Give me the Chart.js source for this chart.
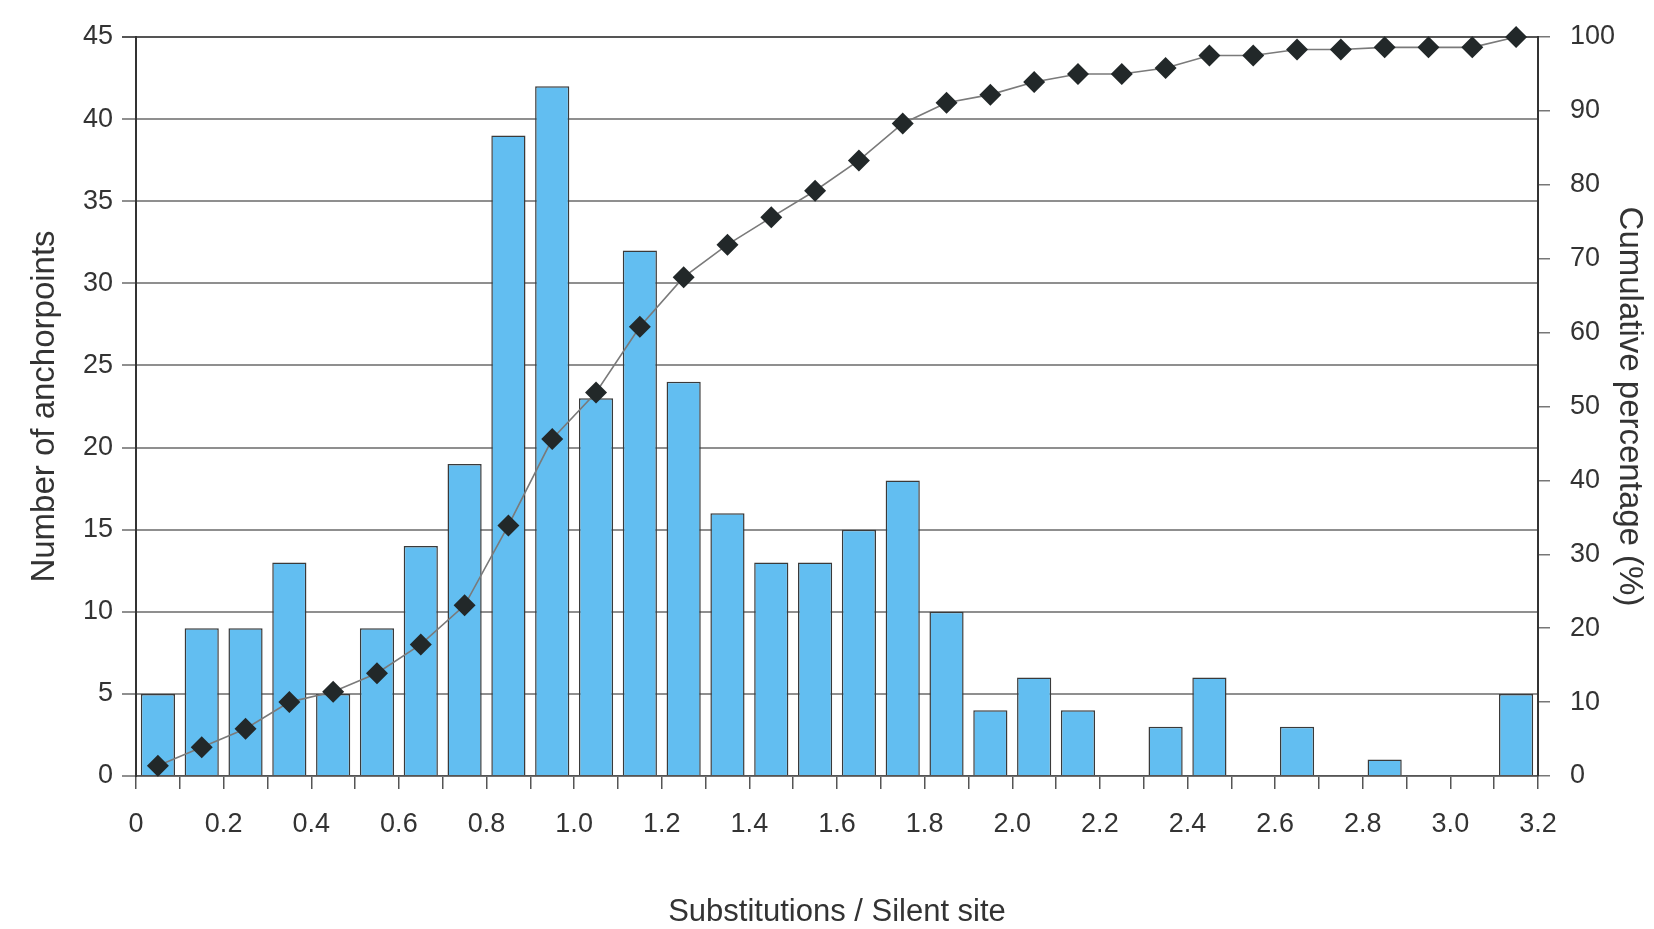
<!DOCTYPE html>
<html>
<head>
<meta charset="utf-8">
<script src="https://cdn.jsdelivr.net/npm/chart.js@4/dist/chart.umd.min.js"></script>
<style>
  html, body { margin: 0; padding: 0; background: #fff; }
  #wrap { width: 1654px; height: 929px; position: relative; }
</style>
</head>
<body>
<div id="wrap"><canvas id="histChart"></canvas></div>
<script>
// bin centres (substitutions / silent site), bins are 0.1 wide
const binMids = [0.05, 0.15, 0.25, 0.35, 0.45, 0.55, 0.65, 0.75, 0.85, 0.95,
  1.05, 1.15, 1.25, 1.35, 1.45, 1.55, 1.65, 1.75, 1.85, 1.95,
  2.05, 2.15, 2.25, 2.35, 2.45, 2.55, 2.65, 2.75, 2.85, 2.95, 3.05, 3.15];
// number of anchorpoints per bin
const anchorCounts = [5, 9, 9, 13, 5, 9, 14, 19, 39, 42,
  23, 32, 24, 16, 13, 13, 15, 18, 10, 4,
  6, 4, 0, 3, 6, 0, 3, 0, 1, 0, 0, 5];
// cumulative percentage
const cumulativePct = [1.4, 3.9, 6.4, 10.0, 11.4, 13.9, 17.8, 23.1, 33.9, 45.6,
  51.9, 60.8, 67.5, 71.9, 75.6, 79.2, 83.3, 88.3, 91.1, 92.2,
  93.9, 95.0, 95.0, 95.8, 97.5, 97.5, 98.3, 98.3, 98.6, 98.6, 98.6, 100];

const xMin = 0, xMax = 3.2, xStep = 0.1;
const leftMax = 45, leftStep = 5;
const rightMax = 100, rightStep = 10;

const barPoints = binMids.map((x, i) => ({ x: x, y: anchorCounts[i] === 0 ? null : anchorCounts[i] }));
const cumPoints = binMids.map((x, i) => ({ x: x, y: cumulativePct[i] }));

const tickFont = { family: "'Liberation Sans', Arial, sans-serif", size: 27 };
const titleFont = { family: "'Liberation Sans', Arial, sans-serif", size: 33 };

new Chart(document.getElementById('histChart'), {
  data: {
    datasets: [
      {
        type: 'line',
        label: 'Cumulative percentage',
        data: cumPoints,
        yAxisID: 'y2',
        borderColor: '#7a7a7a',
        borderWidth: 1.6,
        tension: 0,
        pointStyle: 'rectRot',
        pointRadius: 11,
        pointHoverRadius: 11,
        pointBackgroundColor: '#222829',
        pointBorderColor: '#222829',
        pointBorderWidth: 0,
        clip: false,
        order: 0
      },
      {
        type: 'bar',
        label: 'Number of anchorpoints',
        data: barPoints,
        yAxisID: 'y',
        backgroundColor: '#62bef1',
        borderColor: '#3a3a3a',
        borderWidth: 1.5,
        borderSkipped: 'bottom',
        categoryPercentage: 1,
        barPercentage: 0.78,
        order: 1
      }
    ]
  },
  options: {
    responsive: true,
    maintainAspectRatio: false,
    animation: false,
    layout: { padding: { top: 37, left: 0, right: 0, bottom: 0 } },
    plugins: {
      legend: { display: false },
      tooltip: { enabled: false }
    },
    scales: {
      x: {
        type: 'linear',
        min: xMin,
        max: xMax,
        offset: false,
        afterFit: s => { s.height = 153; },
        ticks: {
          stepSize: xStep,
          autoSkip: false,
          maxRotation: 0,
          padding: 19,
          color: '#333',
          font: tickFont,
          callback: (v, i) => i % 2 === 0 ? (v === 0 ? '0' : v.toFixed(1)) : ''
        },
        grid: {
          offset: false,
          drawOnChartArea: false,
          drawTicks: true,
          tickLength: 13,
          color: '#555',
          lineWidth: 1.5
        },
        border: { display: true, color: '#555', width: 1.5 },
        title: {
          display: true,
          text: 'Substitutions / Silent site',
          color: '#333',
          font: { family: titleFont.family, size: 31 },
          padding: { top: 0, bottom: -2 }
        }
      },
      y: {
        position: 'left',
        min: 0,
        max: leftMax,
        afterFit: s => { s.width = 136; },
        ticks: { stepSize: leftStep, padding: 9, color: '#333', font: tickFont },
        grid: {
          color: c => c.tick && c.tick.value === leftMax ? '#555' : '#8f8f8f',
          lineWidth: 2,
          tickLength: 14
        },
        border: { display: true, color: '#333', width: 2 },
        title: {
          display: true,
          text: 'Number of anchorpoints',
          color: '#333',
          font: titleFont,
          padding: { top: 25, bottom: 0 }
        }
      },
      y2: {
        position: 'right',
        min: 0,
        max: rightMax,
        afterFit: s => { s.width = 116; },
        ticks: { stepSize: rightStep, padding: 20, color: '#333', font: tickFont },
        grid: {
          drawOnChartArea: false,
          drawTicks: true,
          tickLength: 12,
          color: '#777',
          lineWidth: 1.5
        },
        border: { display: true, color: '#333', width: 2 },
        title: {
          display: true,
          text: 'Cumulative percentage (%)',
          color: '#333',
          font: titleFont,
          padding: { top: 5, bottom: 0 }
        }
      }
    }
  }
});
</script>
</body>
</html>
